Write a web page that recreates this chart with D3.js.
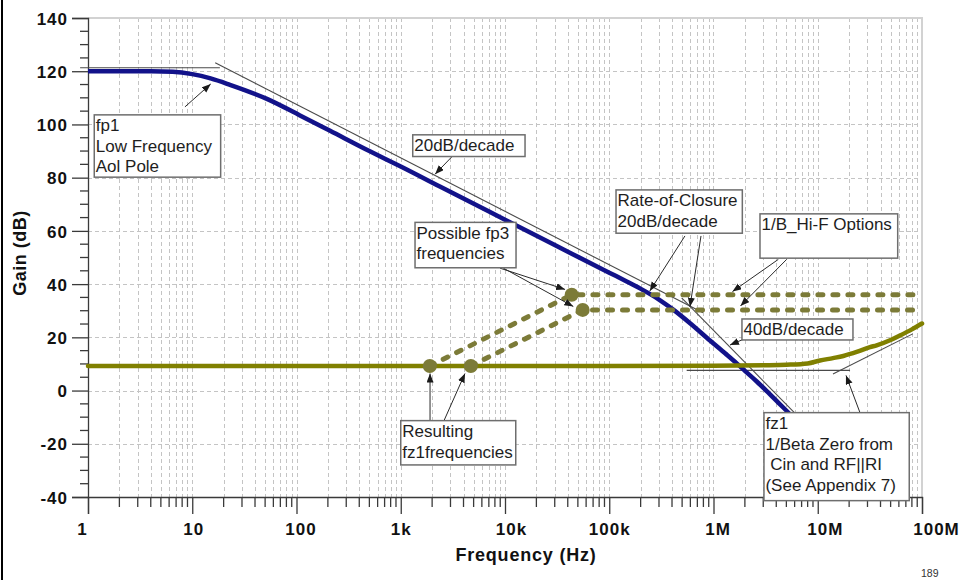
<!DOCTYPE html>
<html>
<head>
<meta charset="utf-8">
<script src="https://cdn.jsdelivr.net/npm/d3@7"></script>
<style>
  html, body { margin: 0; padding: 0; background: #fff; }
  svg { display: block; font-family: "Liberation Sans", Arial, sans-serif; }
</style>
</head>
<body>
<svg id="chart" width="966" height="580"></svg>
<script>
// Open-loop gain (Aol) of the amplifier: frequency in Hz, gain in dB
const aolFreq = [1, 2, 4, 6.5, 10, 15, 23, 52, 108, 210, 500, 1e3, 2.56e3, 1e4, 3e4, 1e5, 1.47e5,
                 1.97e5, 3e5, 4.11e5, 6e5, 9.25e5, 1.3e6, 1.67e6, 2e6, 2.6e6, 3.24e6, 4.2e6,
                 5.42e6, 8e6, 1.2e7, 2e7];
const aolGain = [120, 120, 120, 119.8, 118.9, 117.3, 114.9, 109.6, 103.4, 97.6, 90.0, 84.2, 76.0,
                 64.2, 54.7, 44.3, 41.0, 38.4, 34.2, 30.4, 25.2, 18.8, 13.9, 10.2, 7.4, 3.4, -0.2,
                 -4.6, -8.9, -15.6, -22.6, -31.5];

// Noise gain 1/Beta with the Cin / RF||RI zero
const betaFreq = [1, 1e5, 1e6, 3e6, 5e6, 8e6, 1.05e7, 1.4e7, 1.76e7, 2.4e7, 3.17e7, 3.67e7, 5e7,
                  6.15e7, 8e7, 1e8];
const betaGain = [9.2, 9.2, 9.3, 9.5, 9.7, 10.2, 11.3, 12.2, 13.0, 14.6, 16.3, 17.0, 19.0, 20.7,
                  23.0, 25.2];

// High-frequency 1/Beta options (fz1 -> fp3 -> flat)
const optionAFreq = [1.9e3, 4.36e4, 1e8];
const optionAGain = [9.2, 36.0, 36.0];
const optionBFreq = [4.7e3, 5.56e4, 1e8];
const optionBGain = [9.2, 30.3, 30.3];

// Break points marked with dots
const fz1Freq = [1.9e3, 4.7e3];
const fz1Gain = [9.2, 9.2];
const fp3Freq = [4.36e4, 5.56e4];
const fp3Gain = [36.0, 30.3];

// Straight-line asymptotes (start, end)
const aolFlatFreq = [0.84, 18.4];
const aolFlatGain = [121.3, 121.3];
const aol20Freq = [16.6, 7.93e5];
const aol20Gain = [123.2, 29.2];
const aol40Freq = [4.95e5, 3.6e7];
const aol40Gain = [34.8, -39.4];
const betaFlatFreq = [5.53e5, 2.04e7];
const betaFlatGain = [7.6, 7.6];
const betaRiseFreq = [1.4e7, 8.15e7];
const betaRiseGain = [6.2, 21.3];

// Axes
const xTickValues = [1, 10, 100, 1e3, 1e4, 1e5, 1e6, 1e7, 1e8];
const xTickLabels = ["1", "10", "100", "1k", "10k", "100k", "1M", "10M", "100M"];
const yTickValues = [140, 120, 100, 80, 60, 40, 20, 0, -20, -40];
const yTickLabels = ["140", "120", "100", "80", "60", "40", "20", "0", "-20", "-40"];

// Callouts: box corner as [decade, dB], arrows as [fromDecade, fromDb, toDecade, toDb]
const noteLines = [
  ["fp1", "Low Frequency", "Aol Pole"],
  ["20dB/decade"],
  ["Rate-of-Closure", "20dB/decade"],
  ["1/B_Hi-F Options"],
  ["40dB/decade"],
  ["Possible fp3", "frequencies"],
  ["Resulting", "fz1frequencies"],
  ["fz1", "1/Beta Zero from", " Cin and RF||RI", "(See Appendix 7)"]
];
const noteCorner = [[0.060, 103.6], [3.115, 96.1], [5.065, 75.4], [6.446, 66.4],
                    [6.273, 26.9], [3.137, 63.2], [3.000, -11.3], [6.484, -8.3]];
const noteSize = [[126.4, 62.3], [112.3, 21.7], [126.3, 43.3], [137.7, 44.3],
                  [111, 21], [101, 45.4], [115, 44.3], [145.3, 88]];
const noteArrows = [
  [[0.930, 106.6, 1.177, 115.2]],
  [[3.489, 87.8, 3.329, 81.3]],
  [[5.726, 58.1, 5.389, 37.4], [5.880, 58.1, 5.774, 31.5]],
  [[6.622, 49.3, 6.182, 37.2], [6.702, 49.3, 6.259, 31.8]],
  [[6.283, 19.2, 6.158, 17.1]],
  [[3.952, 46.0, 4.576, 38.0], [3.984, 46.0, 4.655, 31.6]],
  [[3.281, -11.3, 3.281, 6.4], [3.415, -11.3, 3.616, 6.4]],
  [[7.405, -8.3, 7.271, 5.7]]
];

const svg = d3.select("#chart");
const plotL = 88, plotR = 922, plotT = 18, plotB = 497;

const x = d3.scaleLog().domain([1, 1e8]).range([plotL, plotR]);
const y = d3.scaleLinear().domain([-40, 140]).range([plotB, plotT]);
const dec = d => x(Math.pow(10, d));

const zip = (fs, gs) => fs.map((f, i) => [f, gs[i]]);

// page frame on the left
svg.append("rect").attr("x", 1).attr("y", 0).attr("width", 2).attr("height", 580).attr("fill", "#000");

const defs = svg.append("defs");
defs.append("clipPath").attr("id", "plot")
  .append("rect").attr("x", plotL).attr("y", plotT).attr("width", plotR - plotL).attr("height", plotB - plotT);

defs.append("marker")
  .attr("id", "head").attr("markerUnits", "userSpaceOnUse")
  .attr("markerWidth", 10).attr("markerHeight", 8)
  .attr("refX", 9).attr("refY", 3.5).attr("orient", "auto")
  .append("path").attr("d", "M0,0 L9,3.5 L0,7 Z").attr("fill", "#1a1a1a");

// grid
const grid = svg.append("g").attr("stroke", "#c4c4c4").attr("stroke-width", 1)
  .attr("stroke-dasharray", "4,3").attr("fill", "none");
const minorFreqs = [];
for (let p = 0; p < 8; p++) for (let m = 1; m <= 9; m++) minorFreqs.push(m * Math.pow(10, p));
grid.selectAll("line.v").data(minorFreqs.filter(f => f > 1)).join("line")
  .attr("x1", d => Math.round(x(d)) + 0.5).attr("x2", d => Math.round(x(d)) + 0.5)
  .attr("y1", plotT).attr("y2", plotB);
grid.selectAll("line.h").data(yTickValues.filter(v => v > -40 && v < 140)).join("line")
  .attr("x1", plotL).attr("x2", plotR)
  .attr("y1", d => Math.round(y(d)) + 0.5).attr("y2", d => Math.round(y(d)) + 0.5);

// plot border (top / right)
svg.append("path")
  .attr("d", `M${plotL},${plotT}H${plotR}V${plotB}`)
  .attr("fill", "none").attr("stroke", "#d2d2d2").attr("stroke-width", 2);

// axes
const axisG = svg.append("g");
const yAxis = d3.axisLeft(y).tickValues(yTickValues).tickSize(16).tickFormat((d, i) => yTickLabels[i]);
const gy = axisG.append("g").attr("transform", `translate(${plotL},0)`).call(yAxis);
gy.select(".domain").attr("stroke", "#3a3a3a").attr("stroke-width", 1.3);
gy.selectAll(".tick line").attr("stroke", "#3a3a3a").attr("stroke-width", 1.3);
gy.selectAll(".tick text").attr("x", -20).attr("dy", "0.36em")
  .attr("font-size", 17).attr("font-weight", "bold").attr("fill", "#111")
  .attr("letter-spacing", "1px").attr("font-family", "'Liberation Sans', Arial, sans-serif");
const yMinor = d3.range(-35, 140, 5).filter(v => v % 20 !== 0);
axisG.append("g").selectAll("line").data(yMinor).join("line")
  .attr("x1", plotL - 8).attr("x2", plotL)
  .attr("y1", d => y(d)).attr("y2", d => y(d))
  .attr("stroke", "#3a3a3a").attr("stroke-width", 1.3);

const xAxis = d3.axisBottom(x).tickValues(xTickValues).tickSize(17).tickFormat((d, i) => xTickLabels[i]);
const gx = axisG.append("g").attr("transform", `translate(0,${plotB})`).call(xAxis);
gx.select(".domain").attr("stroke", "#3a3a3a").attr("stroke-width", 1.3);
gx.selectAll(".tick line").attr("stroke", "#3a3a3a").attr("stroke-width", 1.3);
const labelNudge = [-6, 1, 4, 0, 6, 0, 4, 7, 14];
gx.selectAll(".tick text").attr("y", 26).attr("dy", "0.71em")
  .attr("dx", (d, i) => labelNudge[i])
  .attr("font-size", 17).attr("font-weight", "bold").attr("fill", "#111")
  .attr("letter-spacing", "1px").attr("font-family", "'Liberation Sans', Arial, sans-serif");
axisG.append("g").selectAll("line").data(minorFreqs.filter(f => f > 1 && !xTickValues.includes(f))).join("line")
  .attr("x1", d => x(d)).attr("x2", d => x(d))
  .attr("y1", plotB).attr("y2", plotB + 10)
  .attr("stroke", "#3a3a3a").attr("stroke-width", 1.3);

// axis titles
svg.append("text").attr("x", 526).attr("y", 561).attr("text-anchor", "middle")
  .attr("font-size", 18).attr("font-weight", "bold").attr("letter-spacing", "0.8px").attr("fill", "#111")
  .text("Frequency (Hz)");
svg.append("text").attr("transform", "translate(26,253) rotate(-90)").attr("text-anchor", "middle")
  .attr("font-size", 18).attr("font-weight", "bold").attr("letter-spacing", "0.5px").attr("fill", "#111")
  .text("Gain (dB)");

const line = d3.line().x(d => x(d[0])).y(d => y(d[1]));
const smooth = d3.line().x(d => x(d[0])).y(d => y(d[1])).curve(d3.curveMonotoneX);

// asymptotes
const asym = svg.append("g").attr("fill", "none").attr("stroke", "#4a4a4a").attr("stroke-width", 1.1);
asym.append("path").attr("d", line(zip(aolFlatFreq, aolFlatGain)));
asym.append("path").attr("d", line(zip(aol20Freq, aol20Gain)));
asym.append("path").attr("clip-path", "url(#plot)").attr("d", line(zip(aol40Freq, aol40Gain)));
asym.append("path").attr("d", line(zip(betaFlatFreq, betaFlatGain)));
asym.append("path").attr("d", line(zip(betaRiseFreq, betaRiseGain)));

// Aol curve
svg.append("path").attr("clip-path", "url(#plot)")
  .attr("d", smooth(zip(aolFreq, aolGain)))
  .attr("fill", "none").attr("stroke", "#12128a").attr("stroke-width", 4.5)
  .attr("stroke-linejoin", "round");

// 1/Beta curve
svg.append("path")
  .attr("d", smooth(zip(betaFreq, betaGain)))
  .attr("fill", "none").attr("stroke", "#808000").attr("stroke-width", 4.5)
  .attr("stroke-linejoin", "round").attr("stroke-linecap", "round");

// high-frequency options
const optColor = "#7c7b38";
[zip(optionAFreq, optionAGain), zip(optionBFreq, optionBGain)].forEach(pts => {
  svg.append("path").attr("d", line(pts))
    .attr("fill", "none").attr("stroke", optColor).attr("stroke-width", 5)
    .attr("stroke-dasharray", "5,10").attr("stroke-linecap", "round");
});
svg.append("g").selectAll("circle")
  .data(zip(fz1Freq, fz1Gain).concat(zip(fp3Freq, fp3Gain))).join("circle")
  .attr("cx", d => x(d[0])).attr("cy", d => y(d[1])).attr("r", 7).attr("fill", optColor);

// callouts
const notes = svg.append("g");
noteLines.forEach((lines, i) => {
  const bx = dec(noteCorner[i][0]), by = y(noteCorner[i][1]);
  const [w, h] = noteSize[i];
  noteArrows[i].forEach(a => {
    notes.append("line")
      .attr("x1", dec(a[0])).attr("y1", y(a[1])).attr("x2", dec(a[2])).attr("y2", y(a[3]))
      .attr("stroke", "#2a2a2a").attr("stroke-width", 1).attr("marker-end", "url(#head)");
  });
  notes.append("rect").attr("x", bx).attr("y", by).attr("width", w).attr("height", h)
    .attr("fill", "#fff").attr("stroke", "#6e6e6e").attr("stroke-width", 1.5);
  const t = notes.append("text").attr("font-size", 17).attr("fill", "#1e1e1e")
    .style("white-space", "pre");
  lines.forEach((s, k) => {
    t.append("tspan").attr("x", bx + 1.5).attr("y", by + 16.5 + k * 20.5).text(s);
  });
});

// page number
svg.append("text").attr("x", 921).attr("y", 577).attr("font-size", 10.5).attr("fill", "#333").text("189");
</script>
</body>
</html>
